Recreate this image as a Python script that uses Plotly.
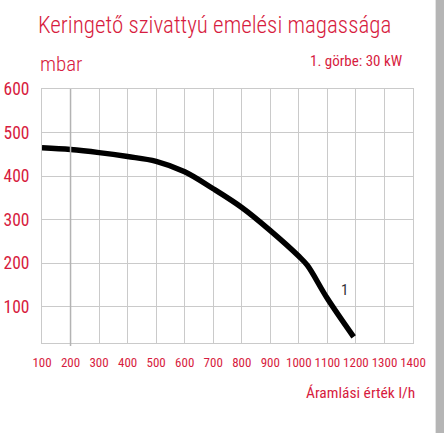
import plotly.graph_objects as go

# curve 1 (30 kW)
flow = [100, 200, 300, 400, 500, 600, 700, 800, 900, 1000, 1030, 1100, 1192]
head = [465, 461, 454, 445, 434, 410, 371, 328, 275, 216, 195, 119, 31]

x_ticks = list(range(100, 1500, 100))
y_ticks = [100, 200, 300, 400, 500, 600]

RED = "#d71c40"
GRID = "#cacaca"
FONT = "Roboto Condensed, DejaVu Sans Condensed, sans-serif"

W, H = 444, 433

fig = go.Figure()
fig.add_trace(go.Scatter(x=flow, y=head, mode="lines",
                         line=dict(color="black", width=5.5, shape="spline", smoothing=1.0),
                         hoverinfo="skip", showlegend=False))

fig.update_layout(
    width=W, height=H,
    margin=dict(l=42, r=31, t=89, b=90, autoexpand=False),
    paper_bgcolor="white", plot_bgcolor="white",
    font=dict(family=FONT, color=RED),
    title=dict(text="Keringető szivattyú emelési magassága", font=dict(size=23, color=RED, weight=300),
               x=38/W, xanchor="left", y=1-25/H, yanchor="middle"),
    showlegend=False,
)
fig.update_xaxes(range=[100, 1400], tickvals=x_ticks, tickangle=0, automargin=False,
                 tickfont=dict(size=13, color=RED), ticks="", ticklabelstandoff=7,
                 showgrid=True, gridcolor=GRID, gridwidth=1, zeroline=False,
                 showline=True, linecolor=GRID, linewidth=1, mirror=True)
fig.update_yaxes(range=[17, 600], tickvals=y_ticks, automargin=False,
                 tickfont=dict(size=17.5, color=RED), ticks="", ticklabelstandoff=8,
                 showgrid=True, gridcolor=GRID, gridwidth=1, zeroline=False,
                 showline=True, linecolor=GRID, linewidth=1, mirror=True)

# darker grid line at 200
fig.add_shape(type="line", xref="x", yref="paper", x0=200, x1=200, y0=-0.012, y1=1,
              line=dict(color="#b3b3b3", width=1.5))
# grey bar on the right edge
fig.add_shape(type="rect", xref="paper", yref="paper", x0=1.061, x1=1.1, y0=-0.4, y1=1.4,
              fillcolor="#b5b5b5", line=dict(width=0), layer="below")

fig.add_annotation(text="mbar", xref="paper", yref="paper", x=-0.012, y=1.10,
                   xanchor="left", yanchor="middle", showarrow=False,
                   font=dict(size=21, color=RED, weight=300))
fig.add_annotation(text="1. görbe: 30 kW", xref="paper", yref="paper", x=0.978, y=1.112,
                   xanchor="right", yanchor="middle", showarrow=False,
                   font=dict(size=15, color=RED))
fig.add_annotation(text="Áramlási érték l/h", xref="paper", yref="paper", x=1.01, y=-0.195,
                   xanchor="right", yanchor="middle", showarrow=False,
                   font=dict(size=15.5, color=RED))
fig.add_annotation(text="1", x=1160, y=138, showarrow=False,
                   font=dict(size=15, color="#333333"))

# drop the default 8px page margin so the figure fills the window
fig.write_html("out.html", config={"displayModeBar": False},
               post_script="document.body.style.margin='0';")
